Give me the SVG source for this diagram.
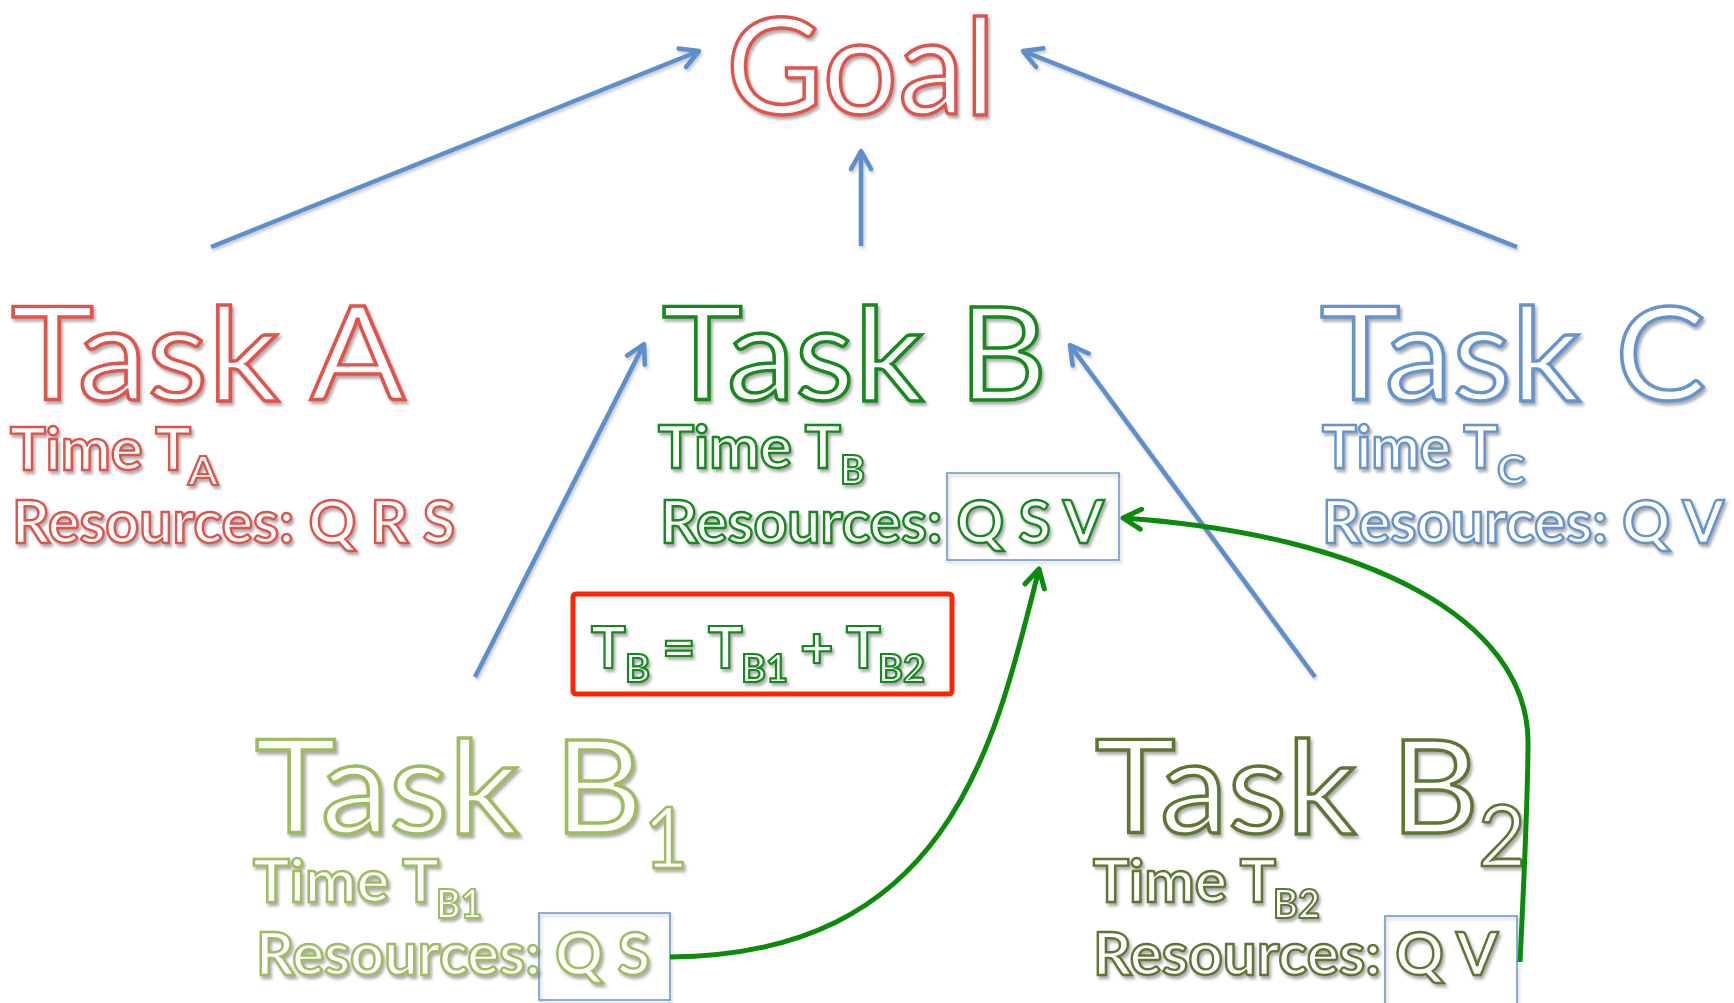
<svg xmlns="http://www.w3.org/2000/svg" width="1734" height="1003" viewBox="0 0 1734 1003">
<style>
text{font-family:Lato,"Open Sans","Liberation Sans",sans-serif;fill:#fff;filter:url(#sh)}
.big{font-size:130px;stroke-width:3.4}
.sm{font-size:59px;font-weight:bold;stroke-width:2.4}
.sub{font-size:40px;font-weight:bold;stroke-width:2.1}
.red{stroke:#E0534C}
.grn{stroke:#12891A}
.blu{stroke:#6594CC}
.lol{stroke:#9EBC5E}
.dol{stroke:#5F7633}
.conn{fill:none;stroke:#5B8FCB;stroke-width:4.5;marker-end:url(#ab);filter:url(#sh2)}
.gconn{fill:none;stroke:#0B8A0B;stroke-width:5;marker-end:url(#ag)}
.rbox{fill:none;stroke:#7099D0;stroke-width:1.6;filter:url(#sh2)}
</style>
<defs>
<filter id="sh" filterUnits="userSpaceOnUse" x="0" y="0" width="1734" height="1003">
<feDropShadow dx="2" dy="3" stdDeviation="1.5" flood-color="#777" flood-opacity="0.6"/>
</filter>
<filter id="sh2" filterUnits="userSpaceOnUse" x="0" y="0" width="1734" height="1003">
<feDropShadow dx="1.5" dy="2.5" stdDeviation="1.5" flood-color="#888" flood-opacity="0.45"/>
</filter>
<marker id="ab" markerUnits="userSpaceOnUse" viewBox="0 0 26 26" refX="22" refY="13" markerWidth="26" markerHeight="26" orient="auto" overflow="visible">
<path d="M4,3 L22,13 L4,23" fill="none" stroke="#5B8FCB" stroke-width="4.5" stroke-linecap="round" stroke-linejoin="round"/>
</marker>
<marker id="ag" markerUnits="userSpaceOnUse" viewBox="0 0 26 26" refX="22" refY="13" markerWidth="26" markerHeight="26" orient="auto" overflow="visible">
<path d="M4,3 L22,13 L4,23" fill="none" stroke="#0B8A0B" stroke-width="5" stroke-linecap="round" stroke-linejoin="round"/>
</marker>
</defs>
<rect width="1734" height="1003" fill="#fff"/>

<g id="goal">
<text class="red" x="726" y="114" font-size="134" stroke-width="3.4" textLength="270" lengthAdjust="spacingAndGlyphs">Goal</text>
</g>

<g id="taskA">
<text class="big red" x="11" y="400" textLength="394" lengthAdjust="spacingAndGlyphs">Task A</text>
<text class="sm red" x="10" y="470" textLength="181" lengthAdjust="spacingAndGlyphs">Time T</text>
<text class="sub red" x="188" y="485" textLength="30" lengthAdjust="spacingAndGlyphs">A</text>
<text class="sm red" x="12" y="543" textLength="443" lengthAdjust="spacingAndGlyphs">Resources: Q R S</text>
</g>

<g id="taskB">
<text class="big grn" x="662" y="400" textLength="385" lengthAdjust="spacingAndGlyphs">Task B</text>
<text class="sm grn" x="658" y="468" textLength="183" lengthAdjust="spacingAndGlyphs">Time T</text>
<text class="sub grn" x="840" y="484" textLength="25" lengthAdjust="spacingAndGlyphs">B</text>
<rect class="rbox" x="947" y="473" width="172" height="87"/>
<text class="sm grn" x="660" y="543" textLength="444" lengthAdjust="spacingAndGlyphs">Resources: Q S V</text>
</g>

<g id="taskC">
<text class="big blu" x="1320" y="400" textLength="386" lengthAdjust="spacingAndGlyphs">Task C</text>
<text class="sm blu" x="1322" y="468" textLength="176" lengthAdjust="spacingAndGlyphs">Time T</text>
<text class="sub blu" x="1497" y="484" textLength="28" lengthAdjust="spacingAndGlyphs">C</text>
<text class="sm blu" x="1322" y="543" textLength="402" lengthAdjust="spacingAndGlyphs">Resources: Q V</text>
</g>

<g id="formula">
<rect x="573" y="594" width="379" height="100" rx="3" fill="none" stroke="#FF2400" stroke-width="5"/>
<text class="grn" font-size="58" font-weight="bold" stroke-width="2.2"><tspan x="591" y="668">T</tspan><tspan x="625" y="682" font-size="38">B</tspan><tspan x="662" y="668">=</tspan><tspan x="708" y="668">T</tspan><tspan x="741" y="682" font-size="38">B1</tspan><tspan x="800" y="668">+</tspan><tspan x="846" y="668">T</tspan><tspan x="878" y="682" font-size="38">B2</tspan></text>
</g>

<g id="taskB1">
<text class="big lol" x="255" y="833" textLength="388" lengthAdjust="spacingAndGlyphs">Task B</text>
<text class="lol" x="644" y="868" font-size="86" stroke-width="2.7" textLength="44" lengthAdjust="spacingAndGlyphs">1</text>
<text class="sm lol" x="253" y="902" textLength="186" lengthAdjust="spacingAndGlyphs">Time T</text>
<text class="sub lol" x="436" y="918" textLength="46" lengthAdjust="spacingAndGlyphs">B1</text>
<rect class="rbox" x="539" y="913" width="131" height="87"/>
<text class="sm lol" x="256" y="975" textLength="394" lengthAdjust="spacingAndGlyphs">Resources: Q S</text>
</g>

<g id="taskB2">
<text class="big dol" x="1095" y="833" textLength="384" lengthAdjust="spacingAndGlyphs">Task B</text>
<text class="dol" x="1478" y="866" font-size="86" stroke-width="2.7" textLength="48" lengthAdjust="spacingAndGlyphs">2</text>
<text class="sm dol" x="1093" y="902" textLength="183" lengthAdjust="spacingAndGlyphs">Time T</text>
<text class="sub dol" x="1273" y="918" textLength="47" lengthAdjust="spacingAndGlyphs">B2</text>
<rect class="rbox" x="1385" y="916" width="132" height="95"/>
<text class="sm dol" x="1093" y="975" textLength="405" lengthAdjust="spacingAndGlyphs">Resources: Q V</text>
</g>

<g id="connectors">
<line class="conn" x1="211" y1="247" x2="699" y2="51"/>
<line class="conn" x1="861" y1="246" x2="861" y2="151"/>
<line class="conn" x1="1517" y1="247" x2="1023" y2="51"/>
<line class="conn" x1="475" y1="677" x2="644" y2="344"/>
<line class="conn" x1="1315" y1="677" x2="1070" y2="345"/>
<path class="gconn" d="M670,957 C950,955 995,745 1039,569"/>
<path class="gconn" d="M1520,962 C1524,880 1528,800 1528,740 C1526,620 1370,535 1123,518"/>
</g>
</svg>
